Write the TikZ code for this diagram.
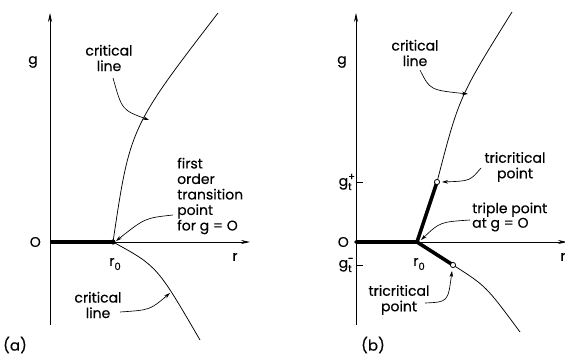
\documentclass[tikz,border=0pt]{standalone}
\usepackage{fontspec}
\setmainfont{Poppins}[FakeBold=0.3]
\usetikzlibrary{arrows.meta}
\newcommand{\gsubsup}[1]{g\rlap{\raisebox{0.75ex}{\fontsize{10}{10}\selectfont #1}}\raisebox{-0.55ex}{\fontsize{10}{10}\selectfont t}}
\newcommand{\rzero}{r\raisebox{-0.55ex}{\fontsize{10}{10}\selectfont 0}}
\begin{document}
\begin{tikzpicture}[x=1pt,y=-1pt,
  axis/.style={line width=0.75pt,-{Stealth[length=9pt,width=4pt]}},
  crit/.style={line width=0.75pt},
  heavy/.style={line width=3.6pt},
  pointer/.style={line width=0.65pt,-{Stealth[length=6pt,width=3.6pt]}},
  lbl/.style={font=\fontsize{14}{15.5}\selectfont, inner sep=0pt, align=center},
  lbll/.style={font=\fontsize{14}{15.5}\selectfont, inner sep=0pt, align=left},
  panel/.style={font=\fontsize{15}{16}\selectfont, inner sep=0pt},
  tick/.style={line width=0.75pt},
]
\useasboundingbox (0,0) rectangle (565,356);

% ---------------- panel (a) ----------------
\coordinate (ybota) at (50,325);
\coordinate (ytopa) at (50,13);
\coordinate (oa) at (50,242);
\coordinate (xenda) at (250,242);
\coordinate (ra) at (113,242);
\coordinate (uenda) at (218,13);
\coordinate (lenda) at (200,340);

\draw[axis] (ybota) -- (ytopa);
\draw[axis] (oa) -- (xenda);
\draw[heavy] (oa) -- (ra);
\fill (ra) circle (2.6pt);
\draw[crit] (ra) .. controls (130,127.5) .. (uenda);
\draw[crit] (ra) .. controls (157,266) .. (lenda);

\node[lbl] (ga) at (33,62) {g};
\node[lbl,anchor=east] (Oa) at (41,242) {O};
\node[lbl] (rlabela) at (235,257) {r};
\node[lbl] (r0a) at (115,264) {\rzero};

\node[lbl] (cla) at (109,58) {critical\\line};
\coordinate (cla-s) at (113,78);
\coordinate (cla-t) at (149,120);
\draw[pointer] (cla-s) .. controls (122,110) .. (cla-t);

\node[lbl] (clb) at (98,305) {critical\\line};
\coordinate (clb-s) at (120,312);
\coordinate (clb-t) at (170,293);
\draw[pointer] (clb-s) .. controls (150,310) .. (clb-t);

\node[lbll,anchor=west] (fo) at (177,196) {first\\order\\transition\\point\\for g = O};
\coordinate (fo-s) at (173,215);
\coordinate (fo-t) at (116,241);
\draw[pointer] (fo-s) .. controls (145,218) .. (fo-t);

\node[panel] (pa) at (15,345) {(a)};

% ---------------- panel (b) ----------------
\coordinate (ybotb) at (356,325);
\coordinate (ytopb) at (356,13);
\coordinate (ob) at (356,242);
\coordinate (xendb) at (567,242);
\coordinate (rb) at (417,242);
\coordinate (tcu) at (437,182);
\coordinate (tcl) at (453,265);
\coordinate (uendb) at (512,12);
\coordinate (lendb) at (520,332);

\draw[axis] (ybotb) -- (ytopb);
\draw[axis] (ob) -- (xendb);
\draw[tick] (356,182) -- (363,182);
\draw[tick] (356,265) -- (363,265);
\draw[heavy,line cap=round] (ob) -- (rb) -- (tcu);
\draw[heavy] (rb) -- (tcl);
\draw[crit] (tcu) .. controls (459,97) .. (uendb);
\draw[crit] (tcl) .. controls (486,286) .. (lendb);
\draw[line width=0.8pt,fill=white] (tcu) circle (2.6pt);
\draw[line width=0.8pt,fill=white] (tcl) circle (2.6pt);

\node[lbl] (gb) at (342,62) {g};
\node[lbl,anchor=east] (Ob) at (349,242) {O};
\node[lbl,anchor=east] (gtp) at (352,182) {\gsubsup{+}};
\node[lbl,anchor=east] (gtm) at (352,265) {\gsubsup{-}};
\node[lbl] (rlabelb) at (563,257) {r};
\node[lbl] (r0b) at (419,264) {\rzero};

\node[lbl] (clc) at (415,53) {critical\\line};
\coordinate (clc-s) at (420,70);
\coordinate (clc-t) at (468,94);
\draw[pointer] (clc-s) .. controls (430,90) .. (clc-t);

\node[lbl] (tcu-l) at (515,167) {tricritical\\point};
\coordinate (tcu-s) at (481,168);
\coordinate (tcu-t) at (442,182);
\draw[pointer] (tcu-s) .. controls (470,181) .. (tcu-t);

\node[lbll,anchor=west,font=\fontsize{14}{12}\selectfont] (tp) at (472,217) {triple point\\at g = O};
\coordinate (tp-s) at (470,220);
\coordinate (tp-t) at (421,240);
\draw[pointer] (tp-s) .. controls (440,222) .. (tp-t);

\node[lbl] (tcl-l) at (399,300) {tricritical\\point};
\coordinate (tcl-s) at (425,303);
\coordinate (tcl-t) at (452,271);
\draw[pointer] (tcl-s) .. controls (448,302) .. (tcl-t);

\node[panel] (pb) at (373,345) {(b)};
\end{tikzpicture}
\end{document}
